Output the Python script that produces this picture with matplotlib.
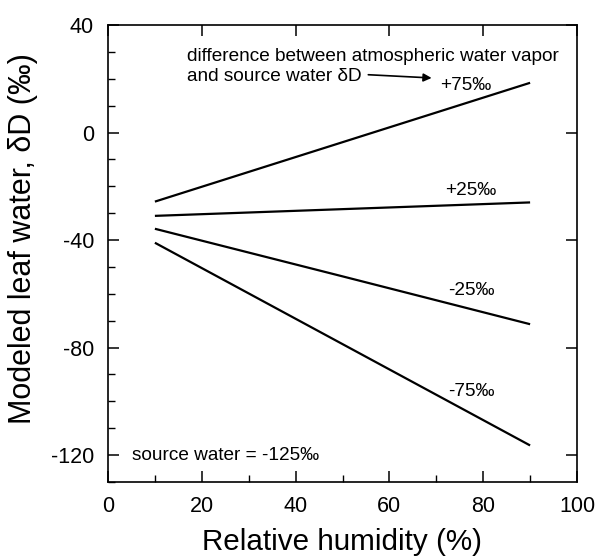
import matplotlib
matplotlib.use("Agg")
import matplotlib.pyplot as plt
from matplotlib.ticker import MultipleLocator

plt.rcParams['font.family'] = ['Liberation Sans', 'DejaVu Sans']
plt.rcParams['axes.unicode_minus'] = False

# Data
humidity = [10, 50, 90]
line_p75 = [-25.7, -3.6, 18.5]
line_p25 = [-31.0, -28.5, -26.0]
line_m25 = [-35.8, -53.5, -71.3]
line_m75 = [-41.0, -78.7, -116.4]
series = [line_p75, line_p25, line_m25, line_m75]
labels = ['+75‰', '+25‰', '-25‰', '-75‰']
label_pos = [(70.8, 17.6), (71.9, -21.5), (72.5, -58.9), (72.5, -96.3)]

x_ticks = [0, 20, 40, 60, 80, 100]
y_ticks = [-120, -80, -40, 0, 40]

fig = plt.figure(figsize=(5.99, 5.60), dpi=100)
ax = fig.add_axes([108/599, 1-482/560, (577-108)/599, (482-25)/560])

for ys in series:
    ax.plot(humidity, ys, color='black', lw=1.6, solid_capstyle='butt')

for lab, (lx, ly) in zip(labels, label_pos):
    ax.text(lx, ly, lab, fontsize=13.7, ha='left', va='center')

ax.text(16.8, 28.3, 'difference between atmospheric water vapor',
        fontsize=13.7, ha='left', va='center')
ax.text(16.8, 20.8, 'and source water δD',
        fontsize=13.7, ha='left', va='center')
ax.annotate('', xy=(69.0, 20.3), xytext=(55.5, 21.5),
            arrowprops=dict(arrowstyle='-|>', color='black', lw=1.2,
                            mutation_scale=12, shrinkA=0, shrinkB=0))
ax.text(5.1, -120, 'source water = -125‰', fontsize=13.7, ha='left', va='center')

ax.set_xlim(0, 100)
ax.set_ylim(-130, 40)
ax.set_xticks(x_ticks)
ax.set_yticks(y_ticks)
ax.xaxis.set_minor_locator(MultipleLocator(10))
ax.yaxis.set_minor_locator(MultipleLocator(10))

ax.tick_params(axis='both', which='major', direction='in', length=8, width=1.1,
               labelsize=15.5, top=True, right=True)
ax.tick_params(axis='both', which='minor', direction='in', length=5, width=1.0,
               top=False, right=False)
ax.tick_params(axis='x', which='major', pad=10)
ax.tick_params(axis='y', which='major', pad=10)

for s in ax.spines.values():
    s.set_linewidth(1.2)

ax.set_xlabel('Relative humidity (%)', fontsize=21.3, labelpad=8)
ax.set_ylabel('Modeled leaf water, δD (‰)', fontsize=22)
ax.yaxis.set_label_coords(-0.150, 0.532)

fig.savefig('out.png', dpi=100)
